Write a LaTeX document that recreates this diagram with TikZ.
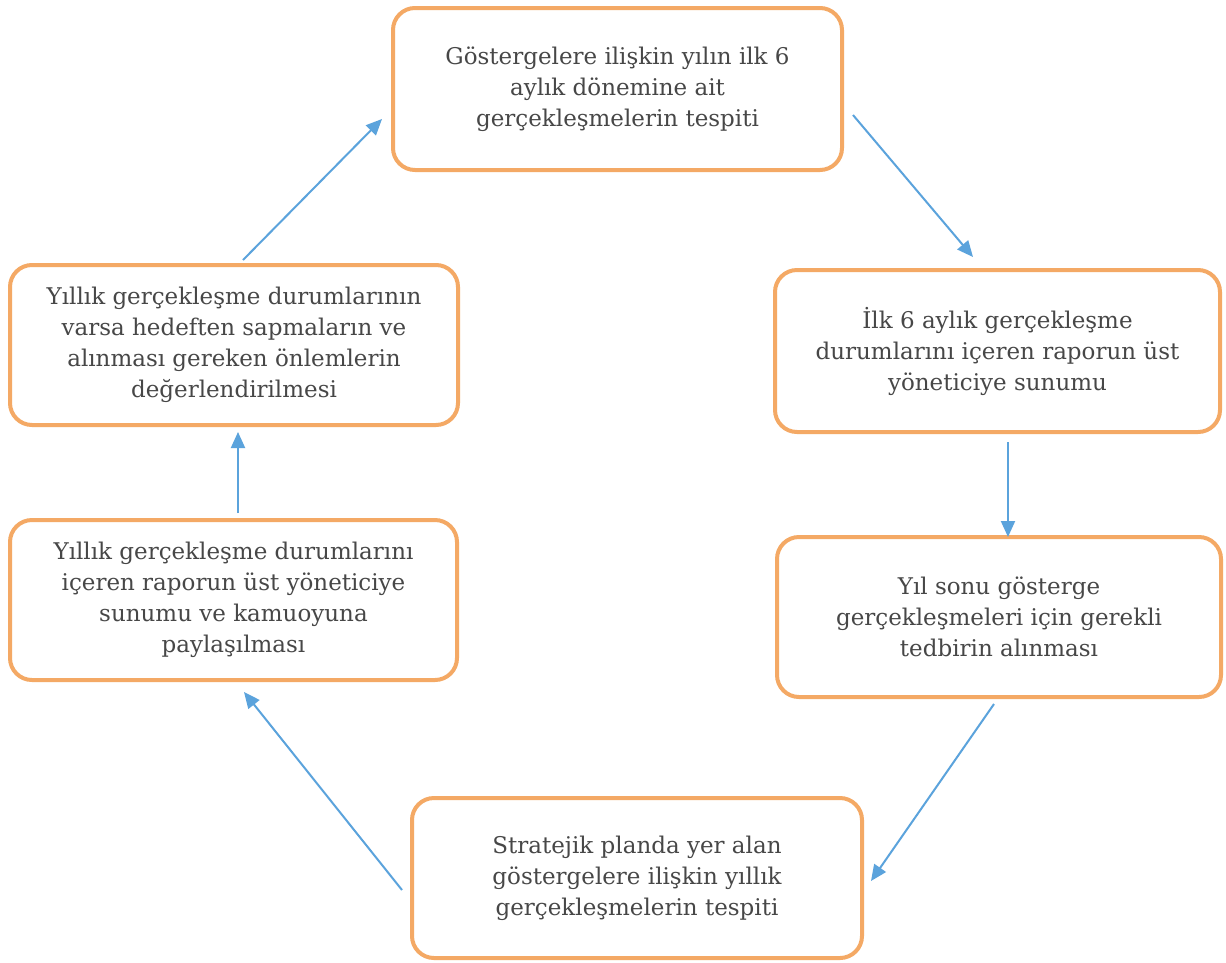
\documentclass[tikz,border=0pt]{standalone}
\usepackage{fontspec}
\setmainfont{DejaVu Serif}
\usetikzlibrary{arrows.meta}
\definecolor{boxorange}{HTML}{F4A965}
\definecolor{arrblue}{HTML}{5BA3DC}
\definecolor{txtgray}{HTML}{474747}
\begin{document}
\begin{tikzpicture}[x=1pt,y=-1pt,
  stepbox/.style={draw=boxorange, line width=4pt, rounded corners=22pt, fill=white,
    align=center, inner sep=0pt, text=txtgray,
    font=\fontsize{23}{31}\selectfont},
  arr/.style={draw=arrblue, line width=2pt, -{Triangle[length=16pt,width=14pt]}}]
\useasboundingbox[fill=white] (0,0) rectangle (1226,962);

\node[stepbox, minimum width=449pt, minimum height=162pt] (top) at (617.5,89)
  {Göstergelere ilişkin yılın ilk 6\\aylık dönemine ait\\gerçekleşmelerin tespiti};
\node[stepbox, minimum width=445pt, minimum height=162pt] (r1) at (997.5,351)
  {İlk 6 aylık gerçekleşme\\durumlarını içeren raporun üst\\yöneticiye sunumu};
\node[stepbox, minimum width=444pt, minimum height=160pt] (r2) at (999,617)
  {Yıl sonu gösterge\\gerçekleşmeleri için gerekli\\tedbirin alınması};
\node[stepbox, minimum width=450pt, minimum height=160pt] (bot) at (637,878)
  {Stratejik planda yer alan\\göstergelere ilişkin yıllık\\gerçekleşmelerin tespiti};
\node[stepbox, minimum width=447pt, minimum height=160pt] (l2) at (233.5,600)
  {Yıllık gerçekleşme durumlarını\\içeren raporun üst yöneticiye\\sunumu ve kamuoyuna\\paylaşılması};
\node[stepbox, minimum width=448pt, minimum height=160pt] (l1) at (234,345)
  {Yıllık gerçekleşme durumlarının\\varsa hedeften sapmaların ve\\alınması gereken önlemlerin\\değerlendirilmesi};

\coordinate (a1s) at (853,115);  \coordinate (a1e) at (973,257);
\coordinate (a2s) at (1008,442); \coordinate (a2e) at (1008,537);
\coordinate (a3s) at (994,704);  \coordinate (a3e) at (871,881);
\coordinate (a4s) at (402,890);  \coordinate (a4e) at (244,692);
\coordinate (a5s) at (238,513);  \coordinate (a5e) at (238,432);
\coordinate (a6s) at (243,260);  \coordinate (a6e) at (382,119);

\draw[arr] (a1s) -- (a1e);
\draw[arr] (a2s) -- (a2e);
\draw[arr] (a3s) -- (a3e);
\draw[arr] (a4s) -- (a4e);
\draw[arr] (a5s) -- (a5e);
\draw[arr] (a6s) -- (a6e);
\end{tikzpicture}
\end{document}
